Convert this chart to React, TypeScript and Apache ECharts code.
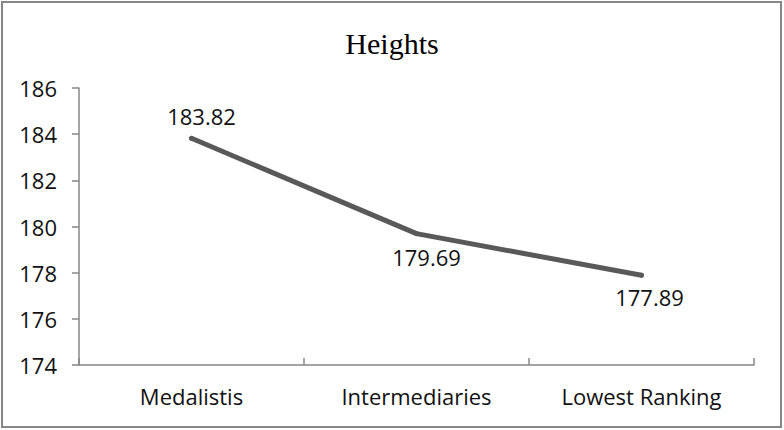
import React, { useEffect, useRef } from "react";
import * as echarts from "echarts";

const categories = ["Medalistis", "Intermediaries", "Lowest Ranking"];
const heights = [183.82, 179.69, 177.89];
const labelPositions = ["top", "bottom", "bottom"];
const labelDistances = [9, 10, 8];
const labelOffsets = [[10, 0], [10, 0], [8, 0]];
const yMin = 174;
const yMax = 186;
const yStep = 2;

export default function App() {
  const ref = useRef<HTMLDivElement>(null);
  useEffect(() => {
    if (!ref.current) return;
    const chart = echarts.init(ref.current, null, { renderer: "svg" });
    const font = "'Open Sans', 'Noto Sans', sans-serif";
    chart.setOption({
      animation: false,
      backgroundColor: "#ffffff",
      title: {
        text: "Heights",
        left: "center",
        top: 23,
        textStyle: {
          fontFamily: "'Liberation Serif', 'DejaVu Serif', serif",
          fontSize: 30,
          fontWeight: "normal",
          color: "#000000",
        },
      },
      graphic: [
        {
          type: "rect",
          shape: { x: 2, y: 2, width: 779, height: 425 },
          style: { fill: "none", stroke: "#878787", lineWidth: 2 },
          silent: true,
        },
      ],
      grid: { left: 79, right: 30, top: 88, bottom: 65, containLabel: false },
      xAxis: {
        type: "category",
        data: categories,
        boundaryGap: true,
        axisLine: { lineStyle: { color: "#878787", width: 1.5 } },
        axisTick: { show: true, inside: true, length: 7, alignWithLabel: false, lineStyle: { color: "#878787", width: 1.5 } },
        axisLabel: { fontFamily: font, fontSize: 22, color: "#111111", margin: 20 },
      },
      yAxis: {
        type: "value",
        min: yMin,
        max: yMax,
        interval: yStep,
        splitLine: { show: false },
        axisLine: { show: true, lineStyle: { color: "#878787", width: 1.5 } },
        axisTick: { show: true, inside: false, length: 7, lineStyle: { color: "#878787", width: 1.5 } },
        axisLabel: { fontFamily: font, fontSize: 22, color: "#111111", margin: 22 },
      },
      series: [
        {
          type: "line",
          data: heights.map((v, i) => ({
            value: v,
            label: {
              show: true,
              position: labelPositions[i],
              distance: labelDistances[i],
              offset: labelOffsets[i],
              formatter: (p: any) => Number(p.value).toFixed(2),
              fontFamily: font,
              fontSize: 22,
              color: "#111111",
            },
          })),
          showSymbol: true,
          symbol: "circle",
          symbolSize: 5,
          itemStyle: { color: "#595959" },
          lineStyle: { color: "#595959", width: 5, cap: "round", join: "round" },
          label: { show: true },
        },
      ],
    });
    return () => chart.dispose();
  }, []);
  return <div ref={ref} style={{ width: 784, height: 430, position: "absolute", left: 0, top: 0 }} />;
}
